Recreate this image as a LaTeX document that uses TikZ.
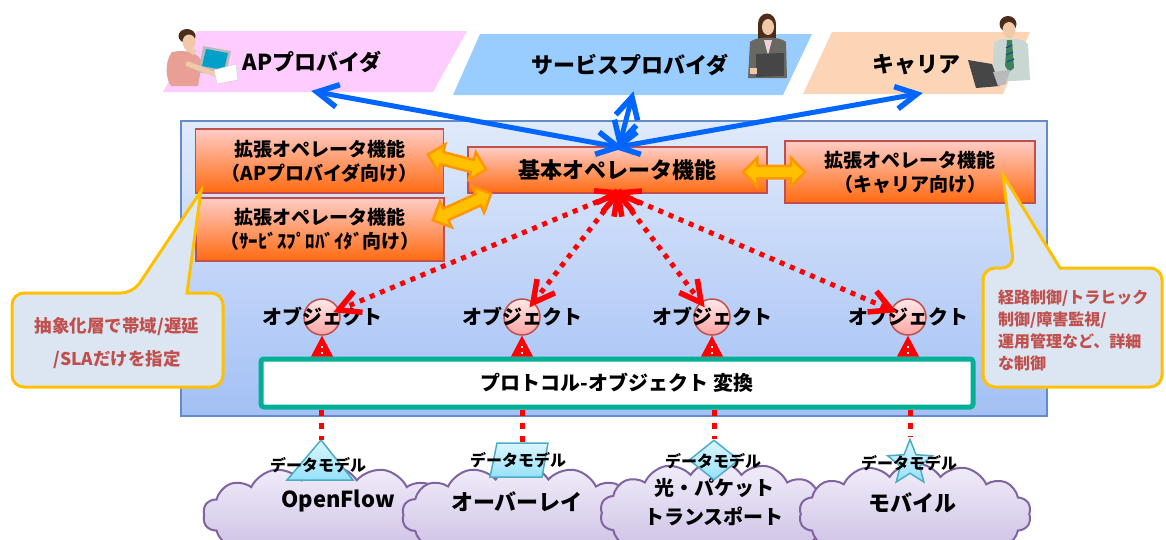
\documentclass[tikz,border=0pt]{standalone}
\usepackage{fontspec}
\setmainfont{Noto Sans CJK JP}
\usetikzlibrary{shapes.geometric,shapes.symbols,shapes.arrows,calc}

% palette
\definecolor{apfill}{RGB}{255,204,255}
\definecolor{spfill}{RGB}{153,204,255}
\definecolor{crfill}{RGB}{251,213,181}
\definecolor{paneltop}{RGB}{224,234,251}
\definecolor{panelbot}{RGB}{163,192,245}
\definecolor{panelline}{RGB}{100,140,200}
\definecolor{opTop}{RGB}{255,204,198}
\definecolor{opBot}{RGB}{255,106,16}
\definecolor{opLine}{RGB}{192,80,77}
\definecolor{arrblue}{RGB}{0,102,255}
\definecolor{dblfill}{RGB}{255,192,0}
\definecolor{dblline}{RGB}{255,150,0}
\definecolor{bandteal}{RGB}{0,176,150}
\definecolor{calloutfill}{RGB}{220,230,242}
\definecolor{calloutline}{RGB}{255,192,0}
\definecolor{callouttext}{RGB}{192,80,77}
\definecolor{dmTop}{RGB}{220,246,255}
\definecolor{dmBot}{RGB}{150,225,250}
\definecolor{dmLine}{RGB}{75,172,198}
\definecolor{cloudTop}{RGB}{242,238,250}
\definecolor{cloudBot}{RGB}{200,186,226}
\definecolor{cloudLine}{RGB}{128,100,162}
\definecolor{objTop}{RGB}{255,232,232}
\definecolor{objBot}{RGB}{255,165,165}
\definecolor{skin}{RGB}{240,200,170}
\definecolor{hairbrown}{RGB}{75,45,25}
\definecolor{shirtpink}{RGB}{232,160,150}
\definecolor{suitgray}{RGB}{105,105,100}
\definecolor{blouse}{RGB}{240,210,220}
\definecolor{laptopdark}{RGB}{70,70,70}
\definecolor{laptoplight}{RGB}{185,185,190}
\definecolor{screencyan}{RGB}{0,160,200}
\definecolor{shirtsage}{RGB}{200,215,210}
\definecolor{tiegreen}{RGB}{60,130,90}
\definecolor{tieblue}{RGB}{40,70,140}

% open V-shaped head at #1, for a line coming from #2, drawn in style #3
\newcommand\chevtip[3]{%
  \draw[#3] ($(#1)!24pt!28:(#2)$) -- (#1) -- ($(#1)!24pt!-28:(#2)$);}

\begin{document}
\begin{tikzpicture}[x=1pt,y=-1pt,
  bannertext/.style={font=\bfseries\fontsize{22}{26}\selectfont, inner sep=0pt},
  opbox/.style={draw=opLine, line width=1.5pt, top color=opTop, bottom color=opBot,
    align=center, font=\bfseries\fontsize{19}{24}\selectfont, inner sep=0pt},
  dblarrow/.style={shape=double arrow, fill=dblfill, draw=dblline, line width=2.5pt,
    inner sep=5pt, double arrow head extend=8pt, minimum height=60pt},
  blueline/.style={draw=arrblue, line width=5pt},
  bluehead/.style={draw=arrblue, line width=5.5pt, line join=miter},
  reddot/.style={draw=red, line width=5pt, dash pattern=on 5pt off 6pt},
  redhead/.style={draw=red, line width=5.5pt, line join=miter},
  redup/.style={draw=red, line width=4pt, dash pattern=on 4pt off 4pt},
  reddown/.style={draw=red, line width=5pt, dash pattern=on 6pt off 7pt},
  objcircle/.style={circle, minimum size=36pt, inner sep=0pt, draw=opLine,
    line width=1.5pt, top color=objTop, bottom color=objBot},
  objtext/.style={font=\bfseries\fontsize{20}{24}\selectfont, inner sep=0pt},
  dmshape/.style={draw=dmLine, line width=1.5pt, top color=dmTop, bottom color=dmBot},
  dmtext/.style={font=\bfseries\fontsize{16}{20}\selectfont, inner sep=0pt},
  netcloud/.style={cloud, cloud puffs=14, cloud puff arc=115, aspect=2.6,
    draw=cloudLine, line width=2pt, top color=cloudTop, bottom color=cloudBot, inner sep=0pt},
  cloudtext/.style={font=\bfseries\fontsize{22}{29}\selectfont, align=center, inner sep=0pt},
  callout/.style={draw=calloutline, line width=3pt, fill=calloutfill},
  calltext/.style={text=callouttext, font=\bfseries\fontsize{16}{22}\selectfont, inner sep=0pt}
]
\useasboundingbox (0,0) rectangle (1166,539);
\clip (0,0) rectangle (1166,539);

% ---------- user banners ----------
\fill[apfill] (197,31) -- (467,31) -- (433,92) -- (163,92) -- cycle;
\fill[spfill] (480,34) -- (812,34) -- (783,95) -- (453,95) -- cycle;
\fill[crfill] (832,32) -- (1030,32) -- (1003,94) -- (803,94) -- cycle;
\node[bannertext] (ap) at (312,62) {APプロバイダ};
\node[bannertext] (sp) at (630,65) {サービスプロバイダ};
\node[bannertext] (cr) at (916,65) {キャリア};

% AP provider: man with laptop and paper
\fill[shirtpink] (172,52) .. controls (164,62) and (166,80) .. (171,86) -- (198,86)
  -- (202,62) .. controls (199,53) and (186,49) .. cycle;
\fill[hairbrown] (187,36) ellipse (8.5 and 7);
\fill[skin] (189,42) ellipse (6.5 and 7.5);
\fill[skin] (193,55) -- (197,51) -- (186,44) -- (184,48) -- cycle;
\fill[laptoplight] (203,46) -- (231,51) -- (226,74) -- (199,69) -- cycle;
\fill[screencyan] (206,49) -- (228,53) -- (224,70) -- (202,66) -- cycle;
\fill[laptoplight] (192,66) -- (222,72) -- (228,77) -- (198,72) -- cycle;
\draw[skin, line width=5pt, line cap=round] (188,64) -- (230,80);
\fill[white, draw=gray!40] (214,70) -- (236,64) -- (238,80) -- (217,84) -- cycle;

% service provider: woman with laptop
\fill[hairbrown] (767,24) ellipse (9 and 10.5);
\fill[hairbrown] (758,24) rectangle (776,40);
\fill[skin] (768,27) ellipse (6 and 8);
\fill[suitgray] (750,42) .. controls (756,36) and (780,36) .. (786,42) -- (787,78) -- (748,78) -- cycle;
\fill[blouse] (764,40) -- (772,40) -- (768,55) -- cycle;
\fill[laptopdark] (756,54) -- (784,53) -- (784,76) -- (756,77) -- cycle;
\fill[skin] (750,68) rectangle (757,74);

% carrier: man with laptop
\fill[hairbrown] (1008,24) ellipse (8.5 and 8);
\fill[skin] (1009,30) ellipse (6.5 and 8);
\fill[shirtsage] (994,43) .. controls (1000,37) and (1022,37) .. (1028,44) -- (1030,80) -- (992,82) -- cycle;
\fill[tiegreen] (1007,40) -- (1012,40) -- (1014,68) -- (1009,72) -- (1005,66) -- cycle;
\draw[tieblue, line width=1.2pt] (1006,48) -- (1012,45) (1006,55) -- (1013,52) (1007,62) -- (1014,59);
\fill[laptopdark] (968,60) -- (992,64) -- (1000,86) -- (976,88) -- cycle;
\fill[laptoplight] (993,72) -- (1010,70) -- (1006,84) -- (998,86) -- cycle;

% ---------- operator panel ----------
\path[draw=panelline, line width=1.2pt, top color=paneltop, bottom color=panelbot]
  (181,121) rectangle (1047,416);

\node[opbox, minimum width=248pt, minimum height=64pt] (extap) at (319.5,161)
  {拡張オペレータ機能\\（APプロバイダ向け）};
\node[opbox, minimum width=248pt, minimum height=63pt] (extsp) at (320,229.5)
  {拡張オペレータ機能\\（ｻｰﾋﾞｽﾌﾟﾛﾊﾞｲﾀﾞ向け）};
\node[opbox, minimum width=299pt, minimum height=46pt, font=\bfseries\fontsize{22}{26}\selectfont]
  (base) at (617.5,170) {基本オペレータ機能};
\node[opbox, minimum width=250pt, minimum height=62pt] (extcr) at (910,172)
  {拡張オペレータ機能\\（キャリア向け）};

% wide links between operator functions
\node[dblarrow, rotate=-14.5] (lnkap) at (457,162) {};
\node[dblarrow, rotate=24.5, minimum height=64pt] (lnksp) at (462,207) {};
\node[dblarrow, minimum height=62pt] (lnkcr) at (774,172) {};

% ---------- links to the users ----------
\coordinate (hub) at (618,147);
\coordinate (apend) at (317,92);
\coordinate (crend) at (917,94);
\coordinate (spend) at (632,97);
\coordinate (spbot) at (620,143);
\draw[blueline] (hub) -- (apend);
\draw[blueline] (hub) -- (crend);
\draw[blueline] (spbot) -- (spend);
\chevtip{apend}{hub}{bluehead}
\chevtip{hub}{apend}{bluehead}
\chevtip{crend}{hub}{bluehead}
\chevtip{hub}{crend}{bluehead}
\chevtip{spend}{spbot}{bluehead}
\chevtip{spbot}{spend}{bluehead}

% ---------- objects ----------
\node[objcircle] (o1) at (322,317) {};
\node[objcircle] (o2) at (522,317) {};
\node[objcircle] (o3) at (712,317) {};
\node[objcircle] (o4) at (908,317) {};
\node[objtext] (t1) at (o1) {オブジェクト};
\node[objtext] (t2) at (o2) {オブジェクト};
\node[objtext] (t3) at (o3) {オブジェクト};
\node[objtext] (t4) at (o4) {オブジェクト};

\coordinate (hubr) at (618,193);
\foreach \k in {1,2,3,4}{
  \coordinate (e\k) at ($(o\k)!18pt!(hubr)$);
  \draw[reddot] (hubr) -- (e\k);
  \chevtip{e\k}{hubr}{redhead}
  \chevtip{hubr}{e\k}{redhead}
}

% protocol / object translation band
\node[draw=bandteal, line width=5pt, fill=white, rounded corners=3pt,
  minimum width=712pt, minimum height=48pt, inner sep=0pt,
  font=\bfseries\fontsize{20}{24}\selectfont] (band) at (617,383)
  {プロトコル-オブジェクト 変換};

% upward links from the band to each object
\foreach \k in {1,2,3,4}{
  \fill[red] (o\k.south) -- ($(o\k |- band.north)+(-11,0)$) -- ($(o\k |- band.north)+(11,0)$) -- cycle;
  \draw[white, line width=2pt, dash pattern=on 2pt off 4pt] ($(o\k |- band.north)+(0,-3)$) -- ($(o\k.south)+(0,10)$);
}

% ---------- networks ----------
\node[netcloud, minimum width=252pt, minimum height=100pt] (cl1) at (329,515) {};
\node[netcloud, minimum width=240pt, minimum height=100pt] (cl2) at (522,515) {};
\node[netcloud, minimum width=232pt, minimum height=104pt] (cl3) at (716,513) {};
\node[netcloud, minimum width=232pt, minimum height=102pt] (cl4) at (915,514) {};
\node[cloudtext] (n1) at (338,501) {OpenFlow};
\node[cloudtext] (n2) at (517,502) {オーバーレイ};
\node[cloudtext, font=\bfseries\fontsize{20}{29}\selectfont] (n3) at (714,502)
  {光・パケット\\トランスポート};
\node[cloudtext] (n4) at (912,503) {モバイル};

% data models
\coordinate (dm1) at (321,440);
\coordinate (dm2) at (522,443);
\path[dmshape] (dm1) -- (353,480) -- (287,480) -- cycle;
\path[dmshape] (497,443) -- (548,443) -- (542,477) -- (490,477) -- cycle;
\node[diamond, dmshape, minimum width=50pt, minimum height=40pt, inner sep=0pt] (dm3) at (714,460) {};
\node[star, star points=5, star point ratio=2.3, dmshape, minimum size=47pt, inner sep=0pt]
  (dm4) at (910,463) {};

\draw[reddown] (dm1 |- band.south) -- (dm1);
\draw[reddown] (dm2 |- band.south) -- (dm2);
\draw[reddown] (dm3 |- band.south) -- (dm3.north);
\draw[reddown] (dm4 |- band.south) -- (dm4.north);

\node[dmtext] (d1) at (318,465) {データモデル};
\node[dmtext] (d2) at (518,460) {データモデル};
\node[dmtext] (d3) at (713,461) {データモデル};
\node[dmtext] (d4) at (909,463) {データモデル};

% ---------- callouts ----------
\draw[callout] (12,340) [rounded corners=12pt] -- (12,293) -- (133,293) [sharp corners]
  -- (201,191) -- (187,293) [rounded corners=12pt] -- (223,293) -- (223,387) -- (12,387) -- cycle;
\node[calltext, font=\bfseries\fontsize{17.5}{22}\selectfont] (cl) at (117,327) {抽象化層で帯域/遅延};
\node[calltext, font=\bfseries\fontsize{17.5}{22}\selectfont] (cl2t) at (117,360) {/SLAだけを指定};

\draw[callout] (983,330) [rounded corners=12pt] -- (983,268) -- (1014,268) [sharp corners]
  -- (1003,175) -- (1060,268) [rounded corners=12pt] -- (1162,268) -- (1162,387) -- (983,387) -- cycle;
\node[calltext, anchor=west, align=left] (cr1) at (998,330)
  {経路制御/トラヒック\\制御/障害監視/\\運用管理など、詳細\\な制御};
\end{tikzpicture}
\end{document}
